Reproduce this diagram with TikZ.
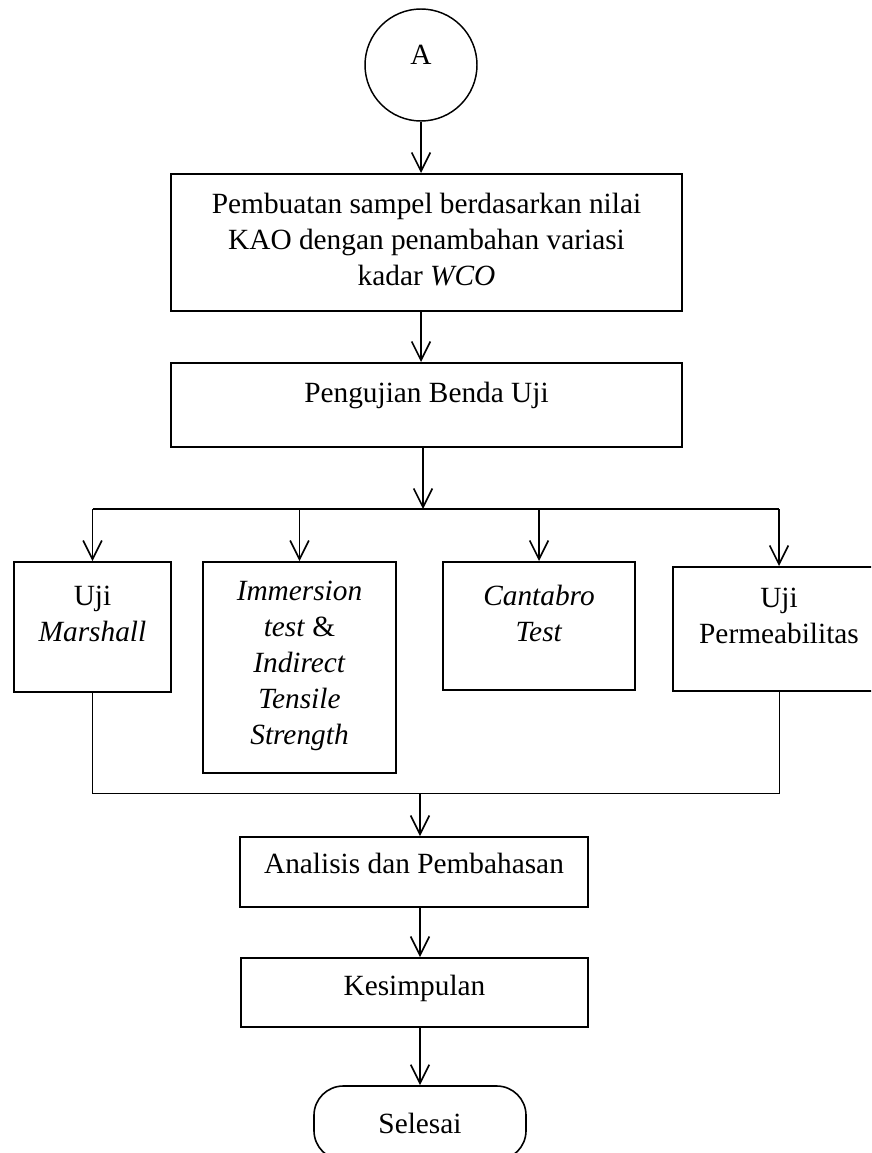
\documentclass[tikz,border=0pt]{standalone}
\usepackage{fontspec}
\setmainfont{Liberation Serif}
\usetikzlibrary{arrows.meta}

\newcommand{\boxtext}[1]{\begin{tabular}[t]{@{}c@{}}#1\end{tabular}}

\tikzset{
  stepbox/.style={draw,line width=1.5pt,text height=15pt,inner sep=3pt},
  arr/.style={-{Straight Barb[length=14pt,width=14pt]},line width=1.25pt},
  link/.style={line width=1pt},
}

\begin{document}
\begin{tikzpicture}[x=0.75pt,y=-0.75pt,font=\fontsize{22}{27}\selectfont]
    \useasboundingbox (0,0) rectangle (871,1153);
    \clip (0,0) rectangle (871,1153);
    \node[draw,circle,line width=1.1pt,minimum size=84pt,text height=15pt,text depth=16.5pt] (A) at (421,65) {A};
    \node[stepbox,minimum width=383.25pt,minimum height=102.75pt,text depth=59.25pt] (sample) at (426.5,242.5)
      {\boxtext{Pembuatan sampel berdasarkan nilai\\ KAO dengan penambahan variasi\\ kadar \textit{WCO}}};
    \node[stepbox,minimum width=383.25pt,minimum height=63pt,text depth=19.5pt] (uji) at (426.5,405) {Pengujian Benda Uji};
    \node[stepbox,minimum width=117.75pt,minimum height=97.5pt,text depth=48pt] (marshall) at (92.5,627) {\boxtext{Uji\\ \textit{Marshall}}};
    \node[stepbox,minimum width=144.75pt,minimum height=158.25pt,text depth=116.25pt] (its) at (299.5,667.5)
      {\boxtext{\textit{Immersion}\\ \textit{test} \&\\ \textit{Indirect}\\ \textit{Tensile}\\ \textit{Strength}}};
    \node[stepbox,minimum width=144pt,minimum height=96pt,text depth=46.5pt] (cantabro) at (539,626) {\boxtext{\textit{Cantabro}\\ \textit{Test}}};
    \node[stepbox,minimum width=159pt,minimum height=93pt,text depth=48pt] (perm) at (779,629) {\boxtext{Uji\\ Permeabilitas}};
    \node[stepbox,minimum width=261pt,minimum height=52.5pt,text depth=13.5pt] (analisis) at (414,872) {Analisis dan Pembahasan};
    \node[stepbox,minimum width=260.25pt,minimum height=51.75pt,text depth=11.25pt] (simpul) at (414.5,992.5) {Kesimpulan};
    \node[draw,line width=1.2pt,rounded corners=22pt,minimum width=159pt,minimum height=55.5pt,text height=15pt,text depth=0pt] (selesai) at (420,1123) {Selesai};
    % split and join points
    \coordinate (split) at (423,509);
    \coordinate (join) at (420,793);
    \draw[arr] (A) -- (A |- sample.north);
    \draw[arr] (A |- sample.south) -- (A |- uji.north);
    \draw[arr] (split |- uji.south) -- (split);
    \draw[link] (split -| marshall) -- (split -| perm);
    \foreach \n in {marshall,its,cantabro,perm}{
      \draw[arr] (split -| \n) -- (\n);
    }
    \draw[line width=0.6pt] (marshall) -- (marshall |- join) -- (perm |- join) -- (perm);
    \draw[arr] (join) -- (join |- analisis.north);
    \draw[arr] (join |- analisis.south) -- (join |- simpul.north);
    \draw[arr] (simpul.south -| selesai) -- (selesai);
  \end{tikzpicture}
\end{document}
